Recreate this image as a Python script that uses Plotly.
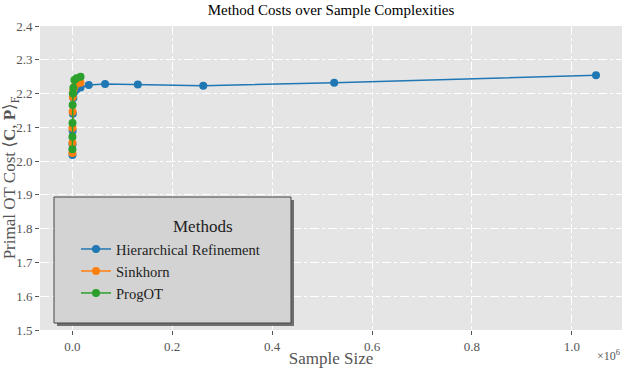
import plotly.graph_objects as go

# sample sizes (number of points)
hr_sizes = [128, 256, 512, 1024, 2048, 4096, 8192, 16384, 32768, 65536,
            131072, 262144, 524288, 1048576]
hr_cost = [2.018, 2.05, 2.09, 2.14, 2.187, 2.205, 2.212, 2.218, 2.225, 2.228,
           2.227, 2.223, 2.232, 2.254]

small_sizes = [64, 128, 256, 512, 1024, 2048, 4096, 8192, 16384]
sinkhorn_cost = [2.024, 2.054, 2.098, 2.146, 2.19, 2.21, 2.22, 2.228, 2.232]
progot_cost = [2.035, 2.072, 2.113, 2.166, 2.2, 2.217, 2.24, 2.245, 2.25]

x_tickvals = [0, 200000, 400000, 600000, 800000, 1000000]
x_ticktext = ['0.0', '0.2', '0.4', '0.6', '0.8', '1.0']
y_tickvals = [1.5, 1.6, 1.7, 1.8, 1.9, 2.0, 2.1, 2.2, 2.3, 2.4]

W, H = 622, 368
L, R, T, B = 40, 0, 26, 38
pw, ph = W - L - R, H - T - B


def px(x):
    return (x - L) / pw


def py(y):
    return (H - B - y) / ph


serif = 'Liberation Serif, DejaVu Serif, serif'
tick_col = '#555555'

fig = go.Figure()
for name, xs, ys, col in [
    ('Hierarchical Refinement', hr_sizes, hr_cost, '#1f77b4'),
    ('Sinkhorn', small_sizes, sinkhorn_cost, '#ff7f0e'),
    ('ProgOT', small_sizes, progot_cost, '#2ca02c'),
]:
    fig.add_trace(go.Scatter(x=xs, y=ys, mode='lines+markers', name=name,
                             line=dict(color=col, width=1.5),
                             marker=dict(color=col, size=8)))

fig.update_layout(
    width=W, height=H,
    margin=dict(l=L, r=R, t=T, b=B, autoexpand=False),
    paper_bgcolor='white',
    plot_bgcolor='#e5e5e5',
    font=dict(family=serif, size=13, color=tick_col),
    title=dict(text='Method Costs over Sample Complexities', x=0.5, xref='paper',
               y=1 - 10 / H, yref='container', yanchor='middle',
               font=dict(family=serif, size=15, color='black')),
    xaxis=dict(
        range=[-64800, 1100600], tickvals=x_tickvals, ticktext=x_ticktext,
        automargin=False,
        showgrid=True, gridcolor='white', griddash='dashdot', gridwidth=1,
        zeroline=False, ticks='outside', ticklen=4, tickcolor=tick_col,
        title=dict(text='Sample Size', standoff=4,
                   font=dict(family=serif, size=17, color=tick_col)),
    ),
    yaxis=dict(
        range=[1.5, 2.4], tickvals=y_tickvals, tickformat='.1f',
        automargin=False,
        showgrid=True, gridcolor='white', griddash='dashdot', gridwidth=1,
        zeroline=False, ticks='outside', ticklen=4, tickcolor=tick_col,
        title=dict(text='Primal OT Cost \u27e8<b>C</b>, <b>P</b>\u27e9<sub>F</sub>',
                   standoff=4, font=dict(family=serif, size=17, color=tick_col)),
    ),
    legend=dict(
        x=px(76), y=py(233), xanchor='left', yanchor='top',
        bgcolor='rgba(0,0,0,0)', borderwidth=0,
        font=dict(family=serif, size=14.6, color='#222222'),
        itemwidth=30,
    ),
    shapes=[
        # legend shadow
        dict(type='rect', xref='paper', yref='paper', layer='above',
             x0=px(57), x1=px(294), y0=py(326), y1=py(200),
             fillcolor='#6f6f6f', line=dict(width=0)),
        # legend box
        dict(type='rect', xref='paper', yref='paper', layer='above',
             x0=px(54), x1=px(291), y0=py(323), y1=py(197),
             fillcolor='#d3d3d3', line=dict(color='#444444', width=1)),
    ],
    annotations=[
        dict(text='Methods', xref='paper', yref='paper', x=px(171), y=py(226),
             showarrow=False, font=dict(family=serif, size=17, color='#222222')),
        dict(text='\u00d710<sup>6</sup>', xref='paper', yref='paper',
             x=1.0, y=py(355), xanchor='right', yanchor='middle', showarrow=False,
             font=dict(family=serif, size=12, color=tick_col)),
    ],
)

# the page body has a default 8px margin; remove it so the figure sits at 0,0
fig.write_html('out.html', config={'displayModeBar': False},
               post_script="document.body.style.margin='0px';")
